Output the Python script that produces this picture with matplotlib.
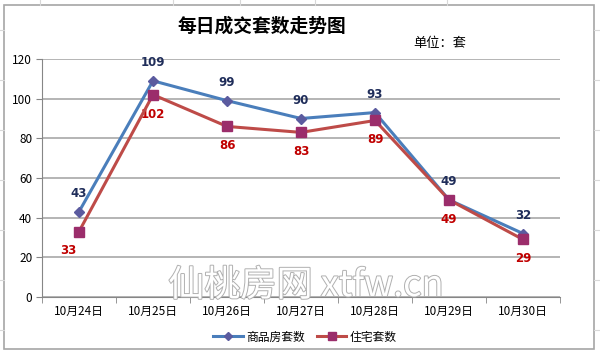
import matplotlib
matplotlib.use("Agg")
import matplotlib.pyplot as plt
import matplotlib.patheffects as pe
from matplotlib.patches import Rectangle
from matplotlib.lines import Line2D

plt.rcParams['font.family'] = ['Noto Sans CJK SC', 'DejaVu Sans']

# data
dates = ['10月24日', '10月25日', '10月26日', '10月27日', '10月28日', '10月29日', '10月30日']
spf = [43, 109, 99, 90, 93, 49, 32]      # 商品房套数
zz = [33, 102, 86, 83, 89, 49, 29]       # 住宅套数
yticks = [0, 20, 40, 60, 80, 100, 120]

fig = plt.figure(figsize=(6.0, 3.54), dpi=100)
fig.patch.set_facecolor('white')

# spreadsheet cells behind the chart
for xv in [40, 173, 240, 315, 447]:
    fig.add_artist(Line2D([xv / 600, xv / 600], [1 - 5 / 354, 1], color='#d8d8d8', lw=0.8))
for yv in [30, 80, 130, 180, 230, 280, 330]:
    fig.add_artist(Line2D([594 / 600, 1], [1 - yv / 354, 1 - yv / 354], color='#d8d8d8', lw=0.8))
    fig.add_artist(Line2D([0, 4 / 600], [1 - yv / 354, 1 - yv / 354], color='#d8d8d8', lw=0.8))
# chart frame
fig.add_artist(Rectangle((4 / 600, 1 - 349 / 354), 590 / 600, 344 / 354,
                         facecolor='white', edgecolor='#a6a6a6', lw=1.2, zorder=0))

ax = fig.add_axes([42 / 600, 1 - 297 / 354, 518 / 600, 238 / 354])
ax.set_facecolor('none')
x = list(range(len(dates)))

ax.plot(x, spf, color='#4a7ebb', lw=2.2, marker='D', ms=5.5,
        mfc='#5b5b9f', mec='#5b5b9f', label='商品房套数', zorder=3)
ax.plot(x, zz, color='#be4b48', lw=2.2, marker='s', ms=7.5,
        mfc='#9b2d6b', mec='#9b2d6b', label='住宅套数', zorder=4)

for i, v in enumerate(spf):
    ax.annotate(str(v), (i, v), xytext=(0, 13), textcoords='offset points',
                ha='center', va='center', fontsize=8.5, fontweight='bold',
                color='#1f2d5a', family='DejaVu Sans')
for i, v in enumerate(zz):
    dx = -8 if i == 0 else 0
    ax.annotate(str(v), (i, v), xytext=(dx, -14), textcoords='offset points',
                ha='center', va='center', fontsize=8.5, fontweight='bold',
                color='#c00000', family='DejaVu Sans')

ax.set_xlim(-0.5, len(dates) - 0.5)
ax.set_ylim(0, 120)
ax.set_yticks(yticks)
ax.set_yticklabels([str(t) for t in yticks], fontsize=8.5)
ax.set_xticks(x)
ax.set_xticklabels(dates, fontsize=8.5)
ax.set_xticks([i - 0.5 for i in range(len(dates) + 1)], minor=True)
ax.tick_params(axis='x', which='major', length=0, pad=6)
ax.tick_params(axis='x', which='minor', length=4, color='#868686', direction='out')
ax.tick_params(axis='y', length=4, color='#868686', pad=3)
ax.grid(axis='y', color='#a0a0a0', lw=1.1)
ax.set_axisbelow(True)
for s in ['top', 'right']:
    ax.spines[s].set_visible(False)
for s in ['left', 'bottom']:
    ax.spines[s].set_color('#868686')

# watermark
fig.text(306 / 600, 1 - 286 / 354, '仙桃房网 xtfw.cn', fontsize=26, color='white',
         ha='center', va='center', zorder=5,
         path_effects=[pe.withStroke(linewidth=1.4, foreground='#b0b0b0')])

fig.text(262 / 600, 1 - 26 / 354, '每日成交套数走势图', fontsize=13.5,
         fontweight='bold', ha='center', va='center', color='black')
fig.text(440 / 600, 1 - 44 / 354, '单位：套', fontsize=9.5,
         ha='center', va='center', color='black')

fig.legend(loc='center', bbox_to_anchor=(305 / 600, 1 - 337 / 354), ncol=2,
           frameon=False, fontsize=8.5, handlelength=2.5, columnspacing=1.0,
           handletextpad=0.3, markerscale=0.75)

fig.savefig('out.png', dpi=100)
